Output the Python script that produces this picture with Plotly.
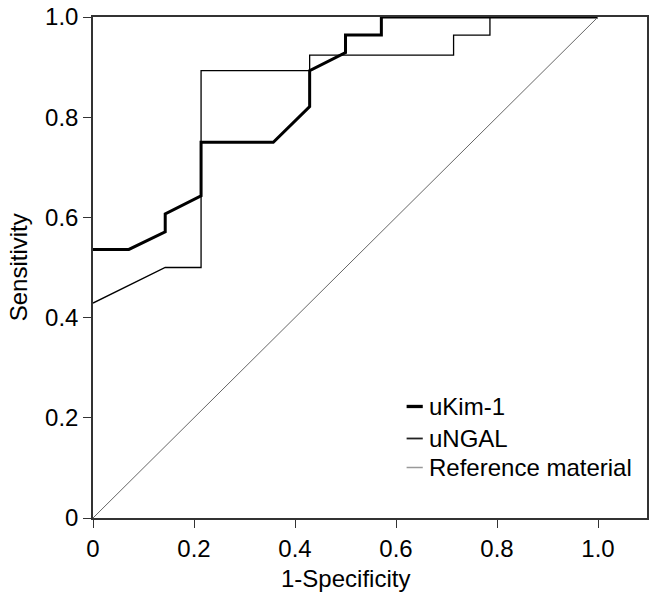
import plotly.graph_objects as go

# uKim-1 ROC curve
ukim_x = [0.0, 0.071, 0.143, 0.143, 0.214, 0.214, 0.357, 0.429, 0.429, 0.500, 0.500, 0.571, 0.571, 1.0]
ukim_y = [0.536, 0.536, 0.571, 0.607, 0.643, 0.750, 0.750, 0.821, 0.893, 0.929, 0.964, 0.964, 1.0, 1.0]

# uNGAL ROC curve
ungal_x = [0.0, 0.143, 0.214, 0.214, 0.429, 0.429, 0.714, 0.714, 0.786, 0.786, 1.0]
ungal_y = [0.429, 0.500, 0.500, 0.893, 0.893, 0.924, 0.924, 0.964, 0.964, 1.0, 1.0]

# Reference line
ref_x = [0.0, 1.0]
ref_y = [0.0, 1.0]

tick_vals = [0, 0.2, 0.4, 0.6, 0.8, 1.0]
tick_text = ["0", "0.2", "0.4", "0.6", "0.8", "1.0"]

series_names = ["uKim-1", "uNGAL", "Reference material"]

FONT = "Arial, Liberation Sans, sans-serif"
FS = 24

styles = [
    dict(color="black", width=3),
    dict(color="black", width=1.3),
    dict(color="#666666", width=1),
]
legend_styles = [
    dict(color="black", width=3.3),
    dict(color="#222222", width=1.8),
    dict(color="#999999", width=1.5),
]

fig = go.Figure()
for xs, ys, name, st in zip([ukim_x, ungal_x, ref_x], [ukim_y, ungal_y, ref_y], series_names, styles):
    fig.add_trace(go.Scatter(x=xs, y=ys, mode="lines", name=name, line=st, showlegend=False))

# custom legend (short line samples + text), placed in the lower right of the plot
leg_x0, leg_x1, leg_tx = 0.621, 0.653, 0.662
leg_rows = [0.2226, 0.1587, 0.1008]
shapes = []
annotations = []
for name, st, yy in zip(series_names, legend_styles, leg_rows):
    shapes.append(dict(type="line", xref="x", yref="y", x0=leg_x0, x1=leg_x1, y0=yy, y1=yy,
                       line=st))
    annotations.append(dict(text=name, xref="x", yref="y", x=leg_tx, y=yy,
                            xanchor="left", yanchor="middle", showarrow=False,
                            font=dict(family=FONT, size=FS, color="black")))

annotations += [
    dict(text="1-Specificity", xref="x", x=0.5, yref="paper", y=-0.12,
         xanchor="center", yanchor="middle", showarrow=False,
         font=dict(family=FONT, size=FS, color="black")),
    dict(text="Sensitivity", xref="paper", x=-0.134, yref="paper", y=0.5,
         xanchor="center", yanchor="middle", textangle=-90, showarrow=False,
         font=dict(family=FONT, size=FS, color="black")),
]

axis_common = dict(
    showgrid=False, zeroline=False, showline=True, linecolor="#333333", linewidth=1.5,
    mirror=True, ticks="outside", ticklen=8, tickwidth=1.3, tickcolor="#333333",
    tickvals=tick_vals, ticktext=tick_text, automargin=False,
    tickfont=dict(family=FONT, size=FS, color="black"),
)

fig.update_layout(
    width=656, height=599,
    margin=dict(l=93, r=9, t=17, b=81),
    plot_bgcolor="white", paper_bgcolor="white",
    font=dict(family=FONT, size=FS, color="black"),
    xaxis=dict(range=[0, 1.097], **axis_common),
    yaxis=dict(range=[0, 1.0], **axis_common),
    showlegend=False,
    shapes=shapes,
    annotations=annotations,
)

fig.write_html("out.html",
               config={"displayModeBar": False},
               post_script="document.body.style.margin='0';document.body.style.overflow='hidden';")
